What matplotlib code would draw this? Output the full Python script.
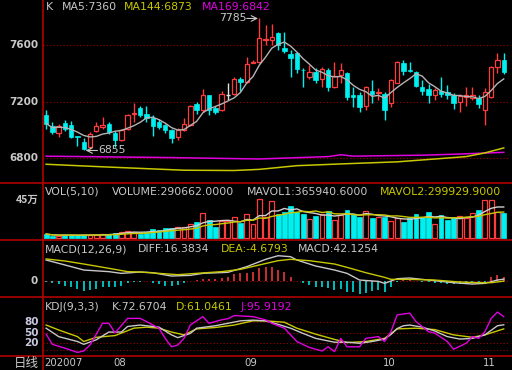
import numpy as np
import pandas as pd
import matplotlib
matplotlib.use("Agg")
import matplotlib.pyplot as plt
from matplotlib.lines import Line2D
from matplotlib.transforms import blended_transform_factory

# daily bars, mid July -> early Nov 2020
opens = [7104, 7026, 6979, 7052, 7033, 6958, 6915, 6880, 6993, 7021,
         7040, 6979, 6932, 7009, 7111, 7157, 7111, 7087, 7056, 7033,
         7002, 6951, 7002, 7033, 7179, 7139, 7249, 7157, 7139, 7245,
         7252, 7358, 7334, 7473, 7480, 7630, 7633, 7680, 7579, 7532,
         7539, 7424, 7374, 7405, 7362, 7421, 7304, 7386, 7398, 7249,
         7249, 7167, 7275, 7261, 7256, 7190, 7332, 7473, 7421, 7409,
         7299, 7287, 7245, 7275, 7268, 7249, 7198, 7233, 7228, 7228,
         7139, 7233, 7445, 7492]
highs = [7139, 7056, 7040, 7073, 7063, 6960, 6946, 6986, 7056, 7092,
         7056, 6991, 7009, 7115, 7193, 7167, 7169, 7104, 7080, 7045,
         7009, 7014, 7087, 7174, 7198, 7285, 7249, 7167, 7275, 7327,
         7374, 7374, 7515, 7492, 7785, 7740, 7746, 7692, 7687, 7562,
         7551, 7433, 7456, 7433, 7445, 7433, 7480, 7468, 7409, 7304,
         7268, 7308, 7355, 7292, 7268, 7362, 7485, 7492, 7480, 7416,
         7351, 7322, 7292, 7370, 7315, 7261, 7256, 7299, 7299, 7245,
         7292, 7449, 7539, 7544]
lows = [7009, 6974, 6951, 6993, 6946, 6885, 6855, 6864, 6986, 7009,
        6974, 6880, 6922, 7002, 7056, 7092, 7056, 6955, 7009, 6979,
        6908, 6927, 6993, 7026, 7115, 7127, 7104, 7115, 7134, 7209,
        7245, 7275, 7327, 7468, 7468, 7600, 7598, 7562, 7539, 7374,
        7398, 7299, 7362, 7327, 7304, 7275, 7292, 7327, 7209, 7162,
        7127, 7139, 7186, 7209, 7068, 7162, 7327, 7386, 7405, 7299,
        7245, 7193, 7209, 7233, 7221, 7150, 7127, 7167, 7209, 7157,
        7033, 7228, 7398, 7393]
closes = [7045, 6986, 7026, 7009, 6951, 6950, 6868, 6974, 7028, 7033,
          6986, 6932, 7002, 7108, 7120, 7104, 7087, 7028, 7021, 6998,
          6946, 7002, 7045, 7167, 7139, 7249, 7143, 7127, 7256, 7245,
          7358, 7334, 7461, 7480, 7645, 7640, 7652, 7598, 7558, 7504,
          7428, 7419, 7405, 7351, 7428, 7304, 7379, 7421, 7233, 7233,
          7162, 7299, 7256, 7266, 7139, 7355, 7480, 7416, 7416, 7308,
          7275, 7245, 7280, 7256, 7245, 7190, 7238, 7245, 7249, 7181,
          7268, 7445, 7492, 7409]
volumes = [44000, 24000, 24000, 32000, 32000, 32000, 32000, 32000, 32000, 40000,
           48000, 60000, 72000, 80000, 72000, 40000, 72000, 104000, 92000, 120000,
           120000, 127000, 123000, 159000, 183000, 295000, 215000, 131000, 199000, 199000,
           243000, 171000, 279000, 159000, 462000, 251000, 442000, 279000, 311000, 378000,
           311000, 279000, 219000, 259000, 279000, 319000, 215000, 271000, 331000, 279000,
           243000, 319000, 231000, 251000, 251000, 199000, 231000, 191000, 231000, 287000,
           251000, 311000, 159000, 271000, 211000, 231000, 263000, 231000, 291000, 331000,
           450000, 450000, 311000, 290662]

# long moving averages (day index, value)
ma144_days = [0, 9, 22, 30, 34, 40, 48, 56, 62, 67, 70, 73]
ma144_vals = [6758, 6740, 6716, 6714, 6722, 6748, 6762, 6775, 6795, 6812, 6838, 6873]
ma169_days = [0, 20, 34, 45, 47, 49, 60, 66, 73]
ma169_vals = [6815, 6805, 6795, 6812, 6825, 6815, 6822, 6830, 6842]

# MACD
diff_days = [0, 3, 6, 10, 12, 15, 17, 20, 23, 25, 29, 32, 35, 37, 39, 40, 43, 46, 48,
             50, 53, 54, 56, 58, 62, 65, 68, 70, 72, 73]
diff_vals = [217, 165, 112, 95, 77, 91, 84, 49, 56, 77, 88, 147, 224, 262, 252, 217, 154,
             112, 77, 7, -7, -28, 21, 28, 0, -21, -35, -28, 7, 16.4]
dea_days = [0, 3, 6, 10, 13, 15, 18, 21, 24, 28, 31, 34, 37, 39, 42, 46, 48, 51, 54,
            55, 58, 62, 66, 69, 71, 73]
dea_vals = [228, 207, 175, 130, 95, 91, 77, 63, 77, 95, 119, 165, 210, 224, 210, 175,
            140, 84, 35, 14, 14, 7, -14, -21, -21, -4.7]
macd_bar = [-10, -21, -35, -56, -70, -84, -105, -98, -84, -63,
            -63, -70, -56, -28, -14, -10, -7, -21, -35, -52,
            -56, -49, -28, -7, 3, 14, 17, 14, 24, 42,
            66, 77, 84, 94, 130, 147, 140, 112, 94, 42,
            -3, -21, -45, -63, -63, -80, -98, -91, -115, -115,
            -140, -126, -108, -98, -115, -63, -10, 14, 7, 2,
            -14, -17, -21, -28, -35, -38, -38, -35, -28, -21,
            -14, 42, 63, 42]

# KDJ
k_days = [0, 2, 5, 6, 8, 10, 12, 13, 15, 18, 20, 21, 23, 24, 27, 29, 31, 33, 35, 37,
          39, 41, 43, 46, 48, 50, 52, 54, 55, 56, 57, 58, 60, 62, 64, 66, 68, 70, 72, 73]
k_vals = [63, 39, 25, 17, 30, 52, 52, 68, 72, 66, 44, 36, 48, 63, 70, 77, 84, 86, 84, 74,
          63, 48, 34, 23, 23, 20, 25, 32, 45, 62, 70, 72, 66, 55, 39, 32, 34, 44, 70, 72.7]
d_days = [0, 2, 5, 6, 8, 11, 14, 16, 18, 20, 22, 24, 27, 30, 33, 35, 38, 40, 43, 46,
          48, 51, 54, 56, 59, 62, 65, 68, 70, 73]
d_vals = [72, 58, 39, 25, 37, 42, 63, 66, 63, 52, 44, 61, 65, 72, 84, 84, 80, 63, 46, 31,
          22, 25, 34, 61, 63, 59, 44, 37, 44, 61]
j_days = [0, 1, 3, 5, 6, 7, 9, 10, 11, 13, 15, 16, 18, 19, 20, 21, 22, 23, 25, 26,
          28, 29, 30, 33, 35, 36, 38, 39, 40, 42, 43, 44, 45, 46, 47, 48, 50, 51, 53, 54,
          55, 56, 58, 59, 61, 62, 64, 65, 67, 68, 69, 70, 71, 72, 73]
j_vals = [46, 17, 6, -6, -2, 15, 77, 77, 50, 91, 91, 82, 63, 34, 10, 15, 34, 72, 96, 77,
          87, 90, 99, 96, 87, 77, 63, 44, 25, 8, 3, -2, 10, -4, 34, 10, 10, 34, 39, 25,
          53, 101, 106, 82, 53, 49, 25, 3, 20, 39, 34, 53, 91, 109, 96]

month_labels = ["202007", "08", "09", "10", "11"]
month_pos = [0, 11, 32, 54, 70]

W, H = 512, 370
RED = "#ff3c3c"
CYAN = "#00f0f0"
YEL = "#c8c800"
MAG = "#e000e0"
GRAY = "#c8c8c8"
BORDER = "#b00000"
GRID = "#a00000"
FS = 7.8

fig = plt.figure(figsize=(W / 100, H / 100), dpi=100, facecolor="black")
plt.rcParams["font.family"] = ["DejaVu Sans"]

n = len(closes)
x = np.arange(n)
o = np.array(opens)
c = np.array(closes)
up = c >= o


def panel(top, bottom, ylim):
    ax = fig.add_axes([43 / W, 1 - bottom / H, (510 - 43) / W, (bottom - top) / H])
    ax.set_facecolor("black")
    ax.set_xlim(-0.5, 74)
    ax.set_ylim(*ylim)
    ax.axis("off")
    return ax


def ftext(px, py, s, color=GRAY, size=FS, **kw):
    kw.setdefault("ha", "left")
    fig.text(px / W, 1 - py / H, s, color=color, fontsize=size, va="center", **kw)


# ---- main K panel
ax = panel(0, 183, (6626, 7915))
for lv in [7600, 7200, 6800]:
    ax.axhline(lv, color=GRID, ls=(0, (1, 2)), lw=0.8, zorder=0)
ax.plot(ma169_days, ma169_vals, color=MAG, lw=1.1)
ax.plot(ma144_days, ma144_vals, color=YEL, lw=1.1)
cols = np.where(up, RED, CYAN)
doji = o == c
cols = np.where(doji, "#e0e0e0", cols)
ax.vlines(x, lows, highs, colors=cols, lw=1, zorder=2)
body_lo = np.minimum(o, c)
body_h = np.abs(c - o)
ax.bar(x[up & ~doji], body_h[up & ~doji], bottom=body_lo[up & ~doji], width=0.7,
       color="black", edgecolor=RED, linewidth=0.9, zorder=3)
ax.bar(x[~up], body_h[~up], bottom=body_lo[~up], width=0.7,
       color=CYAN, edgecolor=CYAN, linewidth=0.5, zorder=3)
ax.hlines(o[doji], x[doji] - 0.35, x[doji] + 0.35, colors="#e0e0e0", lw=1, zorder=3)
ma5 = pd.Series(closes).rolling(5, min_periods=1).mean()
ax.plot(x, ma5, color="#b4b4b4", lw=1, zorder=4)

ih = int(np.argmax(highs))
il = int(np.argmin(lows))
ax.annotate("", xy=(ih - 0.2, highs[ih]), xytext=(ih - 2.0, highs[ih]),
            arrowprops=dict(arrowstyle="->", color=GRAY, lw=0.8, shrinkA=0, shrinkB=0))
ax.text(ih - 2.1, highs[ih], str(highs[ih]), color=GRAY, fontsize=FS, ha="right", va="center")
ax.annotate("", xy=(il + 0.3, lows[il]), xytext=(il + 2.2, lows[il]),
            arrowprops=dict(arrowstyle="->", color=GRAY, lw=0.8, shrinkA=0, shrinkB=0))
ax.text(il + 2.3, lows[il], str(lows[il]), color=GRAY, fontsize=FS, ha="left", va="center")

ftext(46, 7, "K")
ftext(62, 7, "MA5:7360")
ftext(124, 7, "MA144:6873", color=YEL)
ftext(202, 7, "MA169:6842", color=MAG)
for lv, py in [(7600, 44.7), (7200, 102.3), (6800, 158.3)]:
    ftext(38.5, py, str(lv), size=7.5, ha="right", weight="bold")

# ---- volume panel
axv = panel(183, 240, (-27500, 653000))
vol = np.array(volumes)
axv.bar(x[up], vol[up], width=0.78, color="black", edgecolor=RED, linewidth=0.9)
axv.bar(x[~up], vol[~up], width=0.78, color=CYAN, edgecolor=CYAN, linewidth=0.5)
axv.plot(x, pd.Series(volumes).rolling(5, min_periods=1).mean(), color="#d0d0d0", lw=1)
axv.plot(x, pd.Series(volumes).rolling(10, min_periods=1).mean(), color=YEL, lw=1)
ftext(45, 192, "VOL(5,10)")
ftext(112, 192, "VOLUME:290662.0000")
ftext(247, 192, "MAVOL1:365940.6000")
ftext(380, 192, "MAVOL2:299929.9000", color=YEL)
fig.text(38.5 / W, 1 - 200 / H, "45万", color=GRAY, fontsize=7.5, weight="bold",
         ha="right", va="center", family=["Noto Sans CJK SC", "DejaVu Sans"])

# ---- MACD panel
axm = panel(240, 297, (-171, 427))
axm.axhline(0, color=GRID, ls=(0, (1, 2)), lw=0.8, zorder=0)
mb = np.array(macd_bar)
axm.vlines(x, 0, mb, colors=np.where(mb >= 0, RED, CYAN), lw=1.1)
axm.plot(diff_days, diff_vals, color="#c8c8c8", lw=1)
axm.plot(dea_days, dea_vals, color=YEL, lw=1)
ftext(45, 249.3, "MACD(12,26,9)")
ftext(138, 249.3, "DIFF:16.3834")
ftext(220.5, 249.3, "DEA:-4.6793", color=YEL)
ftext(297.5, 249.3, "MACD:42.1254")
ftext(38, 280.7, "0", size=7.5, ha="right", weight="bold")

# ---- KDJ panel
axk = panel(297, 356, (-16.3, 152))
for lv in [0, 20, 50, 80]:
    axk.axhline(lv, color=GRID, ls=(0, (1, 2)), lw=0.8, zorder=0)
axk.plot(d_days, d_vals, color=YEL, lw=1)
axk.plot(k_days, k_vals, color="#c8c8c8", lw=1)
axk.plot(j_days, j_vals, color=MAG, lw=1)
ftext(45, 307.3, "KDJ(9,3,3)")
ftext(111.5, 307.3, "K:72.6704")
ftext(175.5, 307.3, "D:61.0461", color=YEL)
ftext(240.5, 307.3, "J:95.9192", color=MAG)
for lv in [80, 50, 20]:
    py = 322.3 + (80 - lv) / 2.857
    ftext(39, py, str(lv), size=7.5, ha="right", weight="bold", color="#c8c8e0")

# ---- date row
tr = blended_transform_factory(axk.transData, fig.transFigure)
for lab, pos in zip(month_labels, month_pos):
    fig.text(pos - 0.3, 1 - 363.5 / H, lab, transform=tr, color=GRAY, fontsize=7.3,
             ha="left", va="center")
fig.text(38.5 / W, 1 - 363.3 / H, "日线", color=GRAY, fontsize=9, ha="right", va="center",
         family=["Noto Sans CJK SC", "DejaVu Sans"])

# ---- frame lines
for py in [183, 240, 297, 356]:
    fig.add_artist(Line2D([0, 1], [1 - py / H] * 2, color=BORDER, lw=1.2,
                          transform=fig.transFigure))
fig.add_artist(Line2D([43 / W] * 2, [0, 1], color=BORDER, lw=1.2, transform=fig.transFigure))

fig.savefig("out.png", dpi=100, facecolor="black")
